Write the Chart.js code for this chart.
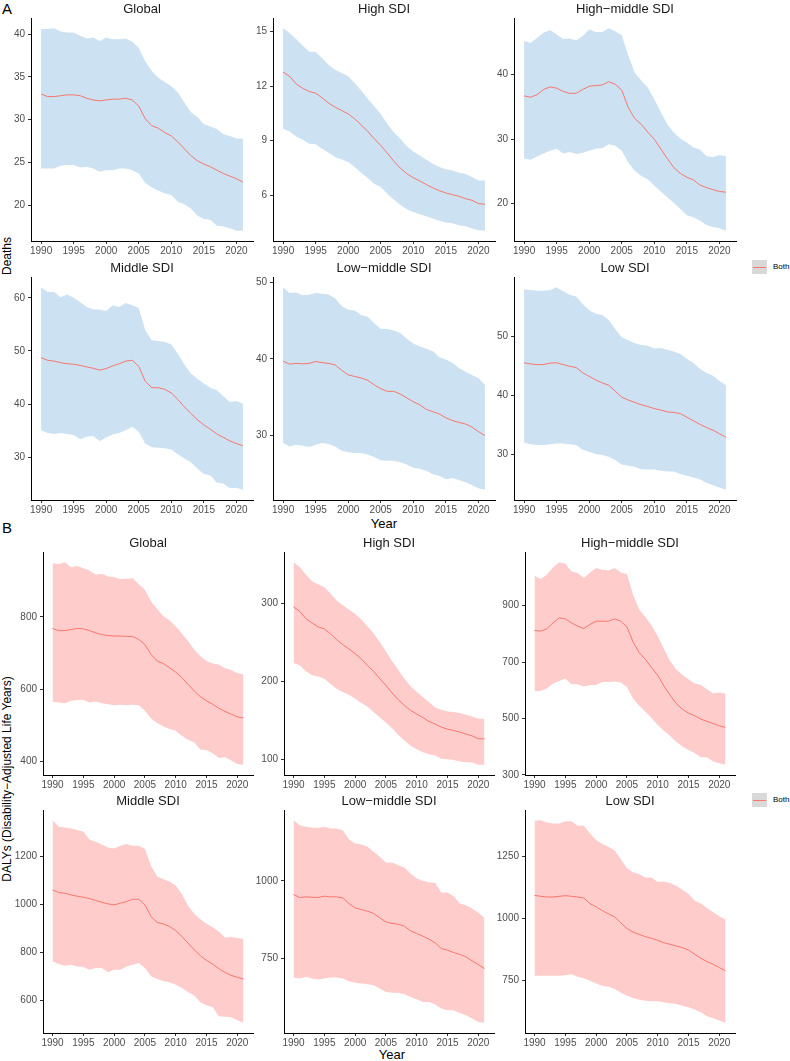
<!DOCTYPE html>
<html><head><meta charset="utf-8">
<script src="https://cdn.jsdelivr.net/npm/chart.js@4/dist/chart.umd.min.js"></script>
<style>
html,body{margin:0;padding:0;background:#fff;}
body{width:790px;height:1061px;position:relative;overflow:hidden;font-family:"Liberation Sans",Arial,sans-serif;}
canvas{position:absolute;}
.t{position:absolute;white-space:nowrap;color:#000;line-height:1;}
.rot{transform:translate(-50%,-50%) rotate(-90deg);}
.ctr{transform:translate(-50%,-50%);}
.key{position:absolute;width:15px;height:14px;background:#D9D9D9;}
.key::after{content:"";position:absolute;left:1px;right:1px;top:6.5px;height:1px;background:#F8766D;}
</style></head><body>

<div class="t" style="left:2px;top:1px;font-size:15px;">A</div>
<div class="t" style="left:2px;top:520px;font-size:15px;">B</div>
<div class="t rot" style="left:7px;top:256px;font-size:12px;">Deaths</div>
<div class="t rot" style="left:7px;top:779px;font-size:12px;">DALYs (Disability−Adjusted Life Years)</div>
<div class="t ctr" style="left:384px;top:523px;font-size:13px;">Year</div>
<div class="t ctr" style="left:392px;top:1054px;font-size:13px;">Year</div>
<div class="key" style="left:752px;top:260px;"></div>
<div class="t" style="left:773px;top:263px;font-size:8px;">Both</div>
<div class="key" style="left:752px;top:793px;"></div>
<div class="t" style="left:773px;top:796px;font-size:8px;">Both</div>

<script>
const years = [1990,1991,1992,1993,1994,1995,1996,1997,1998,1999,2000,2001,2002,2003,2004,2005,2006,2007,2008,2009,2010,2011,2012,2013,2014,2015,2016,2017,2018,2019,2020,2021];
const xTicks = [1990,1995,2000,2005,2010,2015,2020];
const regionNames = ["Global","High SDI","High−middle SDI","Middle SDI","Low−middle SDI","Low SDI"];

// ---- Deaths ----
const deathsGlobalMean = [33.0,32.7,32.7,32.8,32.9,32.9,32.8,32.5,32.3,32.2,32.3,32.4,32.4,32.5,32.3,31.6,30.1,29.3,29.0,28.5,28.1,27.4,26.6,25.8,25.2,24.8,24.5,24.1,23.7,23.4,23.1,22.7];
const deathsGlobalUpper = [40.6,40.6,40.7,40.3,40.2,40.2,39.8,39.5,39.6,39.2,39.6,39.4,39.4,39.5,39.1,38.4,36.8,35.7,34.9,34.4,33.9,33.2,32.0,30.9,30.3,29.5,29.2,28.9,28.3,28.1,27.8,27.8];
const deathsGlobalLower = [24.3,24.3,24.3,24.6,24.7,24.7,24.4,24.5,24.3,23.9,24.1,24.1,24.3,24.3,24.1,23.7,22.6,22.1,21.7,21.4,21.2,20.4,20.1,19.6,18.8,18.4,18.3,17.6,17.5,17.3,17.0,17.0];
const deathsGlobalTicks = [20,25,30,35,40];

const deathsHighMean = [12.76,12.54,12.12,11.88,11.70,11.61,11.35,11.06,10.84,10.66,10.47,10.20,9.87,9.51,9.11,8.74,8.32,7.88,7.50,7.19,6.97,6.79,6.59,6.41,6.26,6.13,6.04,5.95,5.82,5.73,5.55,5.51];
const deathsHighUpper = [15.18,14.91,14.58,14.22,13.89,13.89,13.52,13.16,12.90,12.72,12.54,12.17,11.75,11.30,10.89,10.47,9.93,9.47,9.11,8.70,8.41,8.19,7.96,7.74,7.55,7.43,7.37,7.24,7.19,7.01,6.82,6.82];
const deathsHighLower = [9.65,9.51,9.23,9.07,8.83,8.80,8.56,8.34,8.10,7.97,7.83,7.55,7.24,6.95,6.64,6.46,6.09,5.77,5.49,5.24,5.09,4.96,4.85,4.73,4.60,4.51,4.47,4.36,4.31,4.18,4.09,4.05];
const deathsHighTicks = [6,9,12,15];

const deathsHighMiddleMean = [36.7,36.5,36.9,37.7,38.1,37.9,37.4,37.1,37.1,37.7,38.2,38.3,38.4,38.9,38.5,37.6,34.9,33.2,32.3,31.1,30.0,28.5,27.0,25.6,24.7,24.1,23.7,22.9,22.5,22.2,21.9,21.8];
const deathsHighMiddleUpper = [45.2,44.9,45.7,46.5,46.9,46.2,45.5,45.6,45.3,46.0,47.0,46.6,46.6,47.2,46.7,46.1,43.0,40.3,39.1,38.0,36.2,34.2,32.3,31.0,30.1,29.5,28.7,28.4,27.4,27.2,27.5,27.4];
const deathsHighMiddleLower = [27.0,26.8,27.3,27.8,28.2,28.5,27.8,28.0,27.7,27.9,28.2,28.5,28.6,29.2,29.0,28.2,26.4,25.1,24.3,23.8,22.8,21.9,21.0,20.1,19.2,18.2,17.9,17.4,16.7,16.4,16.2,15.8];
const deathsHighMiddleTicks = [20,30,40];

const deathsMiddleMean = [48.75,48.25,48.1,47.8,47.6,47.5,47.3,47.0,46.75,46.4,46.7,47.2,47.6,48.1,48.25,47.1,44.3,43.1,43.1,42.8,42.1,40.9,39.5,38.25,37.1,36.1,35.3,34.4,33.75,33.1,32.6,32.2];
const deathsMiddleUpper = [62.0,61.1,61.1,60.1,60.6,60.0,59.2,58.25,57.8,57.8,57.5,58.6,58.25,59.0,58.6,58.1,53.9,52.0,51.9,51.7,51.2,49.5,47.5,45.75,44.8,43.9,43.1,42.6,41.5,40.4,40.6,40.1];
const deathsMiddleLower = [35.1,34.6,34.4,34.6,34.4,34.2,33.4,33.9,34.0,33.1,33.75,34.3,34.6,35.1,35.75,34.8,32.6,31.9,31.8,31.7,31.5,30.6,29.8,29.1,27.9,26.9,26.6,25.25,25.1,24.2,24.3,23.9];
const deathsMiddleTicks = [30,40,50,60];

const deathsLowMiddleMean = [39.7,39.3,39.4,39.35,39.4,39.65,39.5,39.4,39.2,38.5,37.9,37.7,37.5,37.2,36.6,36.1,35.75,35.75,35.4,34.9,34.4,34.0,33.4,33.1,32.8,32.3,31.95,31.7,31.5,31.1,30.5,30.0];
const deathsLowMiddleUpper = [49.35,48.6,48.65,48.3,48.35,48.6,48.5,48.4,47.9,46.9,46.4,46.3,45.7,45.5,44.65,43.9,43.9,43.7,43.35,42.6,42.0,41.6,41.3,41.0,40.2,39.9,39.5,38.8,38.35,37.9,37.5,36.6];
const deathsLowMiddleLower = [29.0,28.55,28.8,28.65,28.5,28.8,29.0,28.9,28.55,28.0,27.8,27.7,27.7,27.5,27.2,26.75,26.7,26.7,26.5,26.2,25.8,25.65,25.4,24.95,24.75,24.3,24.45,24.2,23.9,23.55,23.1,22.9];
const deathsLowMiddleTicks = [30,40,50];

const deathsLowMean = [45.5,45.3,45.2,45.2,45.45,45.5,45.2,44.9,44.7,43.8,43.2,42.6,42.1,41.7,40.7,39.7,39.2,38.8,38.4,38.1,37.75,37.5,37.2,37.1,36.9,36.3,35.7,35.1,34.55,34.1,33.5,32.9];
const deathsLowUpper = [57.9,57.8,57.7,57.7,57.8,58.3,57.6,57.0,56.7,55.45,54.4,53.8,53.6,52.75,51.2,49.8,49.3,48.8,48.5,48.4,47.9,48.0,47.7,47.4,47.0,46.2,45.45,44.5,43.8,43.3,42.4,41.7];
const deathsLowLower = [32.0,31.7,31.6,31.6,31.7,31.85,31.85,31.7,31.6,30.8,30.45,30.05,29.9,29.6,29.05,28.3,28.1,27.9,27.5,27.45,27.45,27.25,27.1,27.1,26.7,26.4,26.1,25.8,25.2,24.8,24.4,24.0];
const deathsLowTicks = [30,40,50];

// ---- DALYs ----
const dalysGlobalMean = [768,762,762,765,768,767,762,756,751,748.5,747,747,746,746,737.5,723.7,696,677.7,671,659,647,632,613,595,579,567.4,558,547,538,530.6,523,519.5];
const dalysGlobalUpper = [949,946,952,938,941.6,935,928.7,916.8,919.5,912,910,905,906,907.6,891,875.4,843,822,802,790,774,754,733,710,691.5,677.7,671,668.5,657.5,653,643.7,641];
const dalysGlobalLower = [564.6,562.8,561,567.4,570,570,562.8,565.5,561,558,555.4,556.3,555.4,556.3,555.4,539.8,518.6,505.7,496.6,489.2,484.6,470.8,459.8,452.4,432.2,431.3,422,409.2,411,401.8,392.6,389.9];
const dalysGlobalTicks = [400,600,800];

const dalysHighMean = [295.7,290,280.7,275,270,267.4,261,253.6,247.2,241.6,235.6,228.8,220.2,212.9,203.4,194.8,185,176.4,169.1,162.7,158,153.6,148.5,145,141.2,138.6,136.9,134.8,132.2,130,126.2,126.2];
const dalysHighUpper = [353.2,346.8,337.3,328.8,324.5,321,312.9,303.9,297.9,292.3,286.7,279.4,270.8,261.4,250.6,238.6,225.8,215,203.4,193.6,186.3,179.8,173,166.5,163.5,161.4,160.5,159.2,157.1,155,152,152];
const dalysHighLower = [223.6,220.6,212.9,207.7,206.4,203.4,196.6,190.6,186.3,182.8,177.7,172.1,167.8,160.5,153.6,147.2,139.9,131.3,124,117.2,112.9,109,106.4,104.7,100.4,100,99.1,97,96.1,95.7,92.7,92.7];
const dalysHighTicks = [100,200,300];

const dalysHighMiddleMean = [811.8,809.4,817.6,838.8,856.5,853,838.8,827,818.8,833,844.7,844.7,844.7,853,844.7,824.7,770.6,733,709.4,680,653,615.3,582.4,553,533,518.8,509.4,497.6,489.4,482.4,474,468.2];
const dalysHighMiddleUpper = [1005.9,994.1,1009.4,1035.3,1054.1,1048.2,1021.2,1015.3,997.6,1017.6,1032.9,1027,1024.7,1032.9,1017.6,1011.8,938.8,885.9,860,829.4,791.8,747,703.5,674,654,638.8,623.5,618.8,603.5,588.2,592,588.2];
const dalysHighMiddleLower = [597.6,597.6,605.9,623.5,633,641.2,621.2,621.2,612.9,618.8,618.8,629.4,629.4,630.6,627,611.8,570.6,544.7,523.5,501.2,476.5,456.5,438.8,417.6,400,388.2,377.6,362.4,362.4,347,341.2,335.3];
const dalysHighMiddleTicks = [300,500,700,900];

const dalysMiddleMean = [1061.4,1050.4,1047.6,1040.7,1035.1,1031,1025.4,1017.1,1010.2,1003.2,999,1006,1013,1022.6,1022.6,999,950.6,925.7,920.1,909,892.4,867.4,839.7,812,787.1,767.7,752.4,733,717.8,705.3,697,690.1];
const dalysMiddleUpper = [1352.4,1324.7,1321.9,1317.8,1310.8,1303.9,1272,1262.4,1251.3,1238.8,1234.6,1245.7,1252.7,1245.7,1245.7,1231.9,1161.2,1116.9,1105.8,1096.1,1079.5,1044.8,995,961.7,939.5,920.1,906.3,888.3,863.3,864.7,860.5,856.4];
const dalysMiddleLower = [763.5,752.4,745.5,749.7,742.7,740,728.9,735.8,735.8,717.8,728.9,728.9,742.7,749.7,756.6,735.8,701.2,690.1,680.4,676.2,666.5,652.7,636.1,620.8,593.1,579.3,573.7,534.9,532.2,530.8,518.3,507.2];
const dalysMiddleTicks = [600,800,1000,1200];

const dalysLowMiddleMean = [956,946.4,948.5,947.4,946.4,950.6,948.5,948.5,945.3,927,913.1,907.7,902.4,894.8,880.9,868,862.7,860.5,854.1,839.1,830.5,821.9,812.2,800.4,782.2,776.8,769.3,762.9,755.4,742.5,730.7,717.8];
const dalysLowMiddleUpper = [1195.3,1179.2,1173.8,1170.6,1170.6,1173.8,1168.5,1168.5,1163.1,1133,1120.2,1117,1109.4,1093.3,1077.3,1057.9,1059,1050.4,1042.9,1023.6,1007.5,1000,994.6,993.6,962.4,962.4,950.6,927,921.7,911,897,880.9];
const dalysLowMiddleLower = [688.8,685.6,691,685.6,682.4,685.6,688.8,688.8,685.6,677,671.7,669.5,667.4,664.2,653.4,642.7,639.5,639.5,635.2,626.6,619.1,610.5,610.5,602,589,583.7,583.7,575.1,567.6,556.9,546.1,543];
const dalysLowMiddleTicks = [750,1000];

const dalysLowMean = [1093.3,1089.3,1086.7,1086.7,1089.3,1092,1089.3,1086.7,1082.7,1060,1046.7,1032,1018.7,1006.7,982.7,960,945.3,936,926.7,920,912,902.7,896,889.3,882.7,873.3,856,840,826.7,816,802.7,789.3];
const dalysLowUpper = [1393.3,1396,1386.7,1382.7,1382.7,1392,1392,1373.3,1373.3,1342.7,1316,1300,1289.3,1273.3,1240,1202.7,1186.7,1178.7,1165.3,1165.3,1146.7,1149.3,1142.7,1132,1116,1098.7,1072,1060,1042.7,1025.3,1009.3,996];
const dalysLowLower = [769.3,769.3,769.3,769.3,769.3,772,776,765.3,760,749.3,738.7,729.3,725.3,716,702.7,689.3,680,673.3,669.3,666.7,666.7,662.7,658.7,656,649.3,642.7,633.3,622.7,606.7,598.7,589.3,580];
const dalysLowTicks = [750,1000,1250];

// ---- panel definitions (data references) ----
const deathsPanels = [
  [deathsGlobalMean, deathsGlobalUpper, deathsGlobalLower, deathsGlobalTicks],
  [deathsHighMean, deathsHighUpper, deathsHighLower, deathsHighTicks],
  [deathsHighMiddleMean, deathsHighMiddleUpper, deathsHighMiddleLower, deathsHighMiddleTicks],
  [deathsMiddleMean, deathsMiddleUpper, deathsMiddleLower, deathsMiddleTicks],
  [deathsLowMiddleMean, deathsLowMiddleUpper, deathsLowMiddleLower, deathsLowMiddleTicks],
  [deathsLowMean, deathsLowUpper, deathsLowLower, deathsLowTicks]
];
const dalysPanels = [
  [dalysGlobalMean, dalysGlobalUpper, dalysGlobalLower, dalysGlobalTicks],
  [dalysHighMean, dalysHighUpper, dalysHighLower, dalysHighTicks],
  [dalysHighMiddleMean, dalysHighMiddleUpper, dalysHighMiddleLower, dalysHighMiddleTicks],
  [dalysMiddleMean, dalysMiddleUpper, dalysMiddleLower, dalysMiddleTicks],
  [dalysLowMiddleMean, dalysLowMiddleUpper, dalysLowMiddleLower, dalysLowMiddleTicks],
  [dalysLowMean, dalysLowUpper, dalysLowLower, dalysLowTicks]
];

// ---- layout (positions/styles kept separate from data) ----
const FONT = '"Liberation Sans", Arial, sans-serif';
const TH = 18, XH = 22, PR = 14, PH = 223;
const sections = [
  {panels: deathsPanels, colLeft: [31, 273, 514], rowTop: [18, 277], pw: 222, yw: 31, fill: 'rgb(204,226,242)'},
  {panels: dalysPanels,  colLeft: [43, 284, 525], rowTop: [552, 810], pw: 210, yw: 43, fill: 'rgb(255,204,204)'}
];

const pts = arr => arr.map((v, i) => ({x: years[i], y: v}));

sections.forEach(sec => {
  sec.panels.forEach((p, idx) => {
    const [mean, upper, lower, yTicks] = p;
    const r = Math.floor(idx / 3), c = idx % 3;
    const L = sec.colLeft[c], T = sec.rowTop[r];
    const cv = document.createElement('canvas');
    const W = sec.yw + sec.pw + PR, H = TH + PH + XH;
    cv.width = W; cv.height = H;
    cv.style.left = (L - sec.yw) + 'px';
    cv.style.top = (T - TH) + 'px';
    cv.style.width = W + 'px'; cv.style.height = H + 'px';
    document.body.appendChild(cv);

    const lo = Math.min(...lower), hi = Math.max(...upper);
    const pad = (hi - lo) * 0.05;
    const xMin = years[0] - (years[years.length-1] - years[0]) * 0.05;
    const xMax = years[years.length-1] + (years[years.length-1] - years[0]) * 0.05;

    const axisCommon = {
      border: {display: true, color: '#000', width: 1},
      grid: {display: true, drawOnChartArea: false, drawTicks: true, tickLength: 3, color: '#333', lineWidth: 1},
    };

    new Chart(cv, {
      type: 'line',
      data: {
        datasets: [
          {data: pts(upper), borderWidth: 0, pointRadius: 0, fill: '+1', backgroundColor: sec.fill, tension: 0},
          {data: pts(lower), borderWidth: 0, pointRadius: 0, fill: false, tension: 0},
          {data: pts(mean), borderWidth: 1, borderColor: '#F8766D', pointRadius: 0, fill: false, tension: 0}
        ]
      },
      options: {
        responsive: false, animation: false, devicePixelRatio: 1,
        layout: {padding: {left: 0, right: PR, top: 0, bottom: 0}},
        plugins: {
          legend: {display: false}, tooltip: {enabled: false},
          filler: {drawTime: 'beforeDatasetsDraw'},
          title: {display: true, text: regionNames[idx], fullSize: false, color: '#1A1A1A',
                  font: {size: 13, family: FONT, weight: 'normal', lineHeight: 1}, padding: {top: 3, bottom: 2}}
        },
        scales: {
          x: Object.assign({}, axisCommon, {
            type: 'linear', min: xMin, max: xMax,
            afterBuildTicks: s => { s.ticks = xTicks.map(v => ({value: v})); },
            afterFit: s => { s.height = XH; },
            ticks: {color: '#4D4D4D', font: {size: 10, family: FONT}, padding: 1, maxRotation: 0, autoSkip: false, callback: v => String(v)}
          }),
          y: Object.assign({}, axisCommon, {
            type: 'linear', min: lo - pad, max: hi + pad,
            afterBuildTicks: s => { s.ticks = yTicks.map(v => ({value: v})); },
            afterFit: s => { s.width = sec.yw; },
            ticks: {color: '#4D4D4D', font: {size: 10, family: FONT}, padding: 3, autoSkip: false, callback: v => String(v)}
          })
        }
      }
    });
  });
});
</script>
</body></html>
